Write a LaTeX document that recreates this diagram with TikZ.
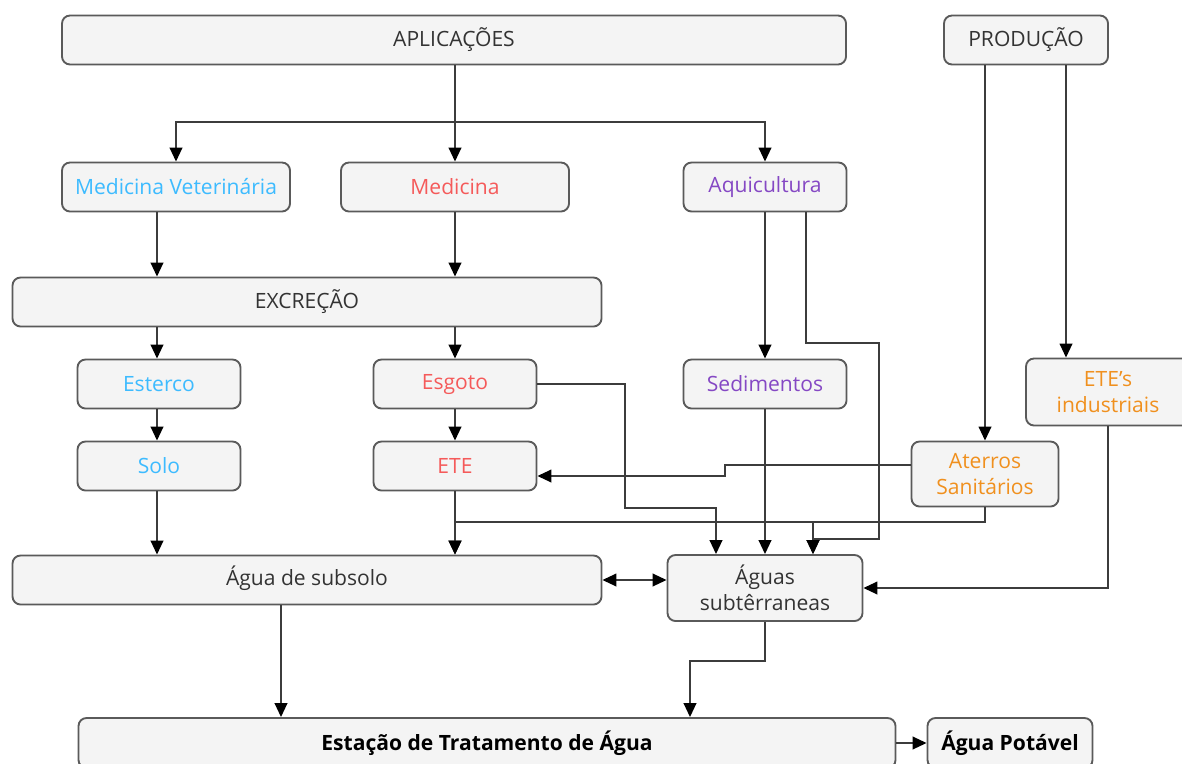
\documentclass[tikz,border=0pt]{standalone}
\usepackage{fontspec}
\setmainfont{Open Sans}
\usetikzlibrary{arrows.meta}
\definecolor{boxfill}{HTML}{F4F4F4}
\definecolor{boxline}{HTML}{5A5A5A}
\definecolor{txtgray}{HTML}{333333}
\definecolor{cblue}{HTML}{3DBBFF}
\definecolor{cred}{HTML}{F55A5A}
\definecolor{cpurple}{HTML}{8548C4}
\definecolor{corange}{HTML}{F0901E}
\definecolor{conn}{HTML}{3C3C3C}
\tikzset{
  box/.style={draw=boxline, line width=1.4pt, fill=boxfill, rounded corners=6pt,
    text=txtgray, align=center, inner sep=2pt, font=\fontsize{15.8}{19.5}\selectfont},
  wh/.style 2 args={minimum width=#1*0.75pt, minimum height=#2*0.75pt},
  tip/.tip={Triangle[length=10.5pt,width=9.5pt,color=black]},
  arr/.style={draw=conn, line width=1.4pt, -tip},
  darr/.style={draw=conn, line width=1.4pt, tip-tip},
  boldtxt/.style={font=\fontsize{15.8}{19.5}\selectfont\bfseries, text=black}
}
\begin{document}
\begin{tikzpicture}[x=0.75pt,y=-0.75pt]
\useasboundingbox (0,0) rectangle (1182,764);
\clip (0,0) rectangle (1182,764);
\fill[white] (0,0) rectangle (1182,764);
% nodes
\node[box, wh={784}{49}] (apl) at (454,40) {APLICAÇÕES};
\node[box, wh={164}{49}] (prod) at (1026,40) {PRODUÇÃO};
\node[box, wh={228}{49}, text=cblue] (medvet) at (176,187) {Medicina Veterinária};
\node[box, wh={228}{49}, text=cred] (med) at (455,187) {Medicina};
\node[box, wh={163}{49}, text=cpurple] (aqui) at (765,187) {\strut Aquicultura};
\node[box, wh={589}{49}] (excr) at (307,302) {EXCREÇÃO};
\node[box, wh={163}{49}, text=cblue] (esterco) at (159,384) {Esterco};
\node[box, wh={163}{49}, text=cred] (esgoto) at (455,384) {\strut Esgoto};
\node[box, wh={163}{49}, text=cpurple] (sed) at (765,384) {Sedimentos};
\node[box, wh={164}{67}, text=corange] (eteind) at (1108,392) {ETE's\\industriais};
\node[box, wh={163}{49}, text=cblue] (solo) at (159,466) {Solo};
\node[box, wh={163}{49}, text=cred] (ete) at (455,466) {ETE};
\node[box, wh={147}{65}, text=corange] (aterros) at (985,474) {Aterros\\Sanitários};
\node[box, wh={589}{49}] (subsolo) at (307,580) {\strut Água de subsolo};
\node[box, wh={195}{66}] (aguas) at (765,588) {Águas\\subtêrraneas};
\node[box, wh={817}{50}, boldtxt] (eta) at (487,743) {Estação de Tratamento de Água};
\node[box, wh={165}{50}, boldtxt] (pot) at (1010,743) {Água Potável};
% helper coordinates
\coordinate (c157) at (157,0);
\coordinate (c806) at (806,0);
\coordinate (c1066) at (1066,0);
\coordinate (c281) at (281,0);
\coordinate (j1) at (455,122);
\coordinate (p1) at (625,508);
\coordinate (c716) at (716,0);
\coordinate (p2) at (879,343);
\coordinate (p3) at (813,539);
\coordinate (p4) at (725,465);
\coordinate (p5) at (725,476);
\coordinate (p6) at (455,522);
\coordinate (p7) at (813,522);
\coordinate (p9) at (690,661);
% connectors
\draw[arr] (apl.south -| j1) -- (med.north);
\draw[arr] (j1) -| (medvet.north);
\draw[arr] (j1) -| (aqui.north);
\draw[arr] (medvet.south -| c157) -- (excr.north -| c157);
\draw[arr] (med.south) -- (excr.north -| med.south);
\draw[arr] (excr.south -| c157) -- (esterco.north -| c157);
\draw[arr] (excr.south -| esgoto.north) -- (esgoto.north);
\draw[arr] (esterco.south -| c157) -- (solo.north -| c157);
\draw[arr] (esgoto.south) -- (ete.north);
\draw[arr] (solo.south -| c157) -- (subsolo.north -| c157);
\draw[arr] (ete.south) -- (subsolo.north -| ete.south);
\draw[arr] (esgoto.east) -| (p1) -| (aguas.north -| c716);
\draw[arr] (aqui.south) -- (sed.north);
\draw[arr] (aqui.south -| c806) |- (p2) |- (p3) -- (aguas.north -| p3);
\draw[arr] (sed.south) -- (aguas.north);
\draw[arr] (prod.south -| aterros.north) -- (aterros.north);
\draw[arr] (prod.south -| c1066) -- (eteind.north -| c1066);
\draw[arr] (aterros.west |- p4) -- (p4) |- (ete.east |- p5);
\draw[arr] (aterros.south) |- (p6) -- (subsolo.north -| p6);
\draw[arr] (aterros.south) |- (p7) -- (aguas.north -| p7);
\draw[arr] (eteind.south) |- (aguas.east);
\draw[darr] (subsolo.east) -- (subsolo.east -| aguas.west);
\draw[arr] (subsolo.south -| c281) -- (eta.north -| c281);
\draw[arr] (aguas.south) |- (p9) -- (eta.north -| p9);
\draw[arr] (eta.east) -- (pot.west);
\end{tikzpicture}
\end{document}
